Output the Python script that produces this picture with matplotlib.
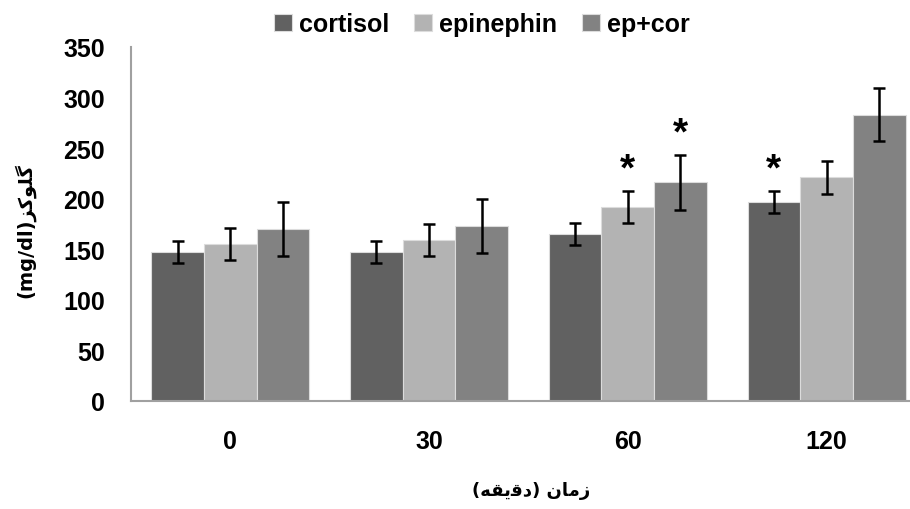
import matplotlib
matplotlib.use("Agg")
import matplotlib.pyplot as plt
import numpy as np

# values
groups = ["0", "30", "60", "120"]
series_names = ["cortisol", "epinephin", "ep+cor"]
cortisol = [147, 147, 165, 197]
cortisol_err = [11, 11, 11, 11]
epinephin = [155, 159, 192, 221]
epinephin_err = [16, 16, 16, 16]
ep_cor = [170, 173, 216, 283]
ep_cor_err = [27, 27, 27, 26]
# significance marks (*) per series and group
cortisol_star = [False, False, False, True]
epinephin_star = [False, False, True, False]
ep_cor_star = [False, False, True, False]

y_ticks = [0, 50, 100, 150, 200, 250, 300, 350]

# presentation forms, in visual order, so the Persian text shows joined
x_label = "(\uFEEA\uFED8\uFBFE\uFED7\uFEA9) \uFEE5\uFE8E\uFEE3\uFEAF"   # زمان (دقیقه)
y_label = "(mg/dl)\uFEB0\uFB90\uFEEE\uFEE0\uFB94"                        # گلوکز(mg/dl)

colors = ["#616161", "#b3b3b3", "#828282"]
fonts = ["Liberation Sans", "DejaVu Sans"]

fig = plt.figure(figsize=(9.1, 5.1), dpi=100)
ax = fig.add_axes([0.144, 0.212, 0.856, 0.694])

x = np.arange(len(groups))
w = 0.265
all_vals = [cortisol, epinephin, ep_cor]
all_errs = [cortisol_err, epinephin_err, ep_cor_err]
all_stars = [cortisol_star, epinephin_star, ep_cor_star]

for i, (vals, errs, stars) in enumerate(zip(all_vals, all_errs, all_stars)):
    xs = x + (i - 1) * w
    ax.bar(xs, vals, width=w, color=colors[i], edgecolor="#dcdcdc",
           linewidth=0.8, label=series_names[i], zorder=2)
    ax.errorbar(xs, vals, yerr=errs, fmt="none", ecolor="black",
                elinewidth=1.8, capsize=4.5, capthick=1.8, zorder=3)
    for xi, v, e, s in zip(xs, vals, errs, stars):
        if s:
            ax.text(xi, v + e + 21, "*", ha="center", va="center",
                    fontsize=28, fontweight="bold", family=fonts, zorder=4)

ax.set_xlim(-0.5, 3.42)
ax.set_ylim(0, 350)
ax.set_yticks(y_ticks)
ax.set_xticks(x)
ax.set_xticklabels(groups)
ax.tick_params(axis="both", length=0, labelsize=18)
ax.tick_params(axis="y", pad=19)
ax.tick_params(axis="x", pad=20)
for lab in ax.get_xticklabels() + ax.get_yticklabels():
    lab.set_fontweight("bold")
    lab.set_family(fonts)

for side in ["top", "right"]:
    ax.spines[side].set_visible(False)
for side in ["left", "bottom"]:
    ax.spines[side].set_color("#a0a0a0")
    ax.spines[side].set_linewidth(1.5)

fig.text(531 / 910, 1 - 491 / 510, x_label, ha="center", va="center",
         fontsize=13, fontweight="bold", family=["DejaVu Sans"])
fig.text(25 / 910, 1 - 231 / 510, y_label, ha="center", va="center",
         rotation=90, fontsize=14, fontweight="bold", family=["DejaVu Sans"])

leg = fig.legend(loc="center", bbox_to_anchor=(482 / 910, 1 - 25 / 510),
                 ncol=3, frameon=False, handlelength=0.7, handleheight=0.7,
                 handletextpad=0.3, columnspacing=1.0,
                 prop={"family": fonts, "weight": "bold", "size": 18})

fig.savefig("out.png", dpi=100)
